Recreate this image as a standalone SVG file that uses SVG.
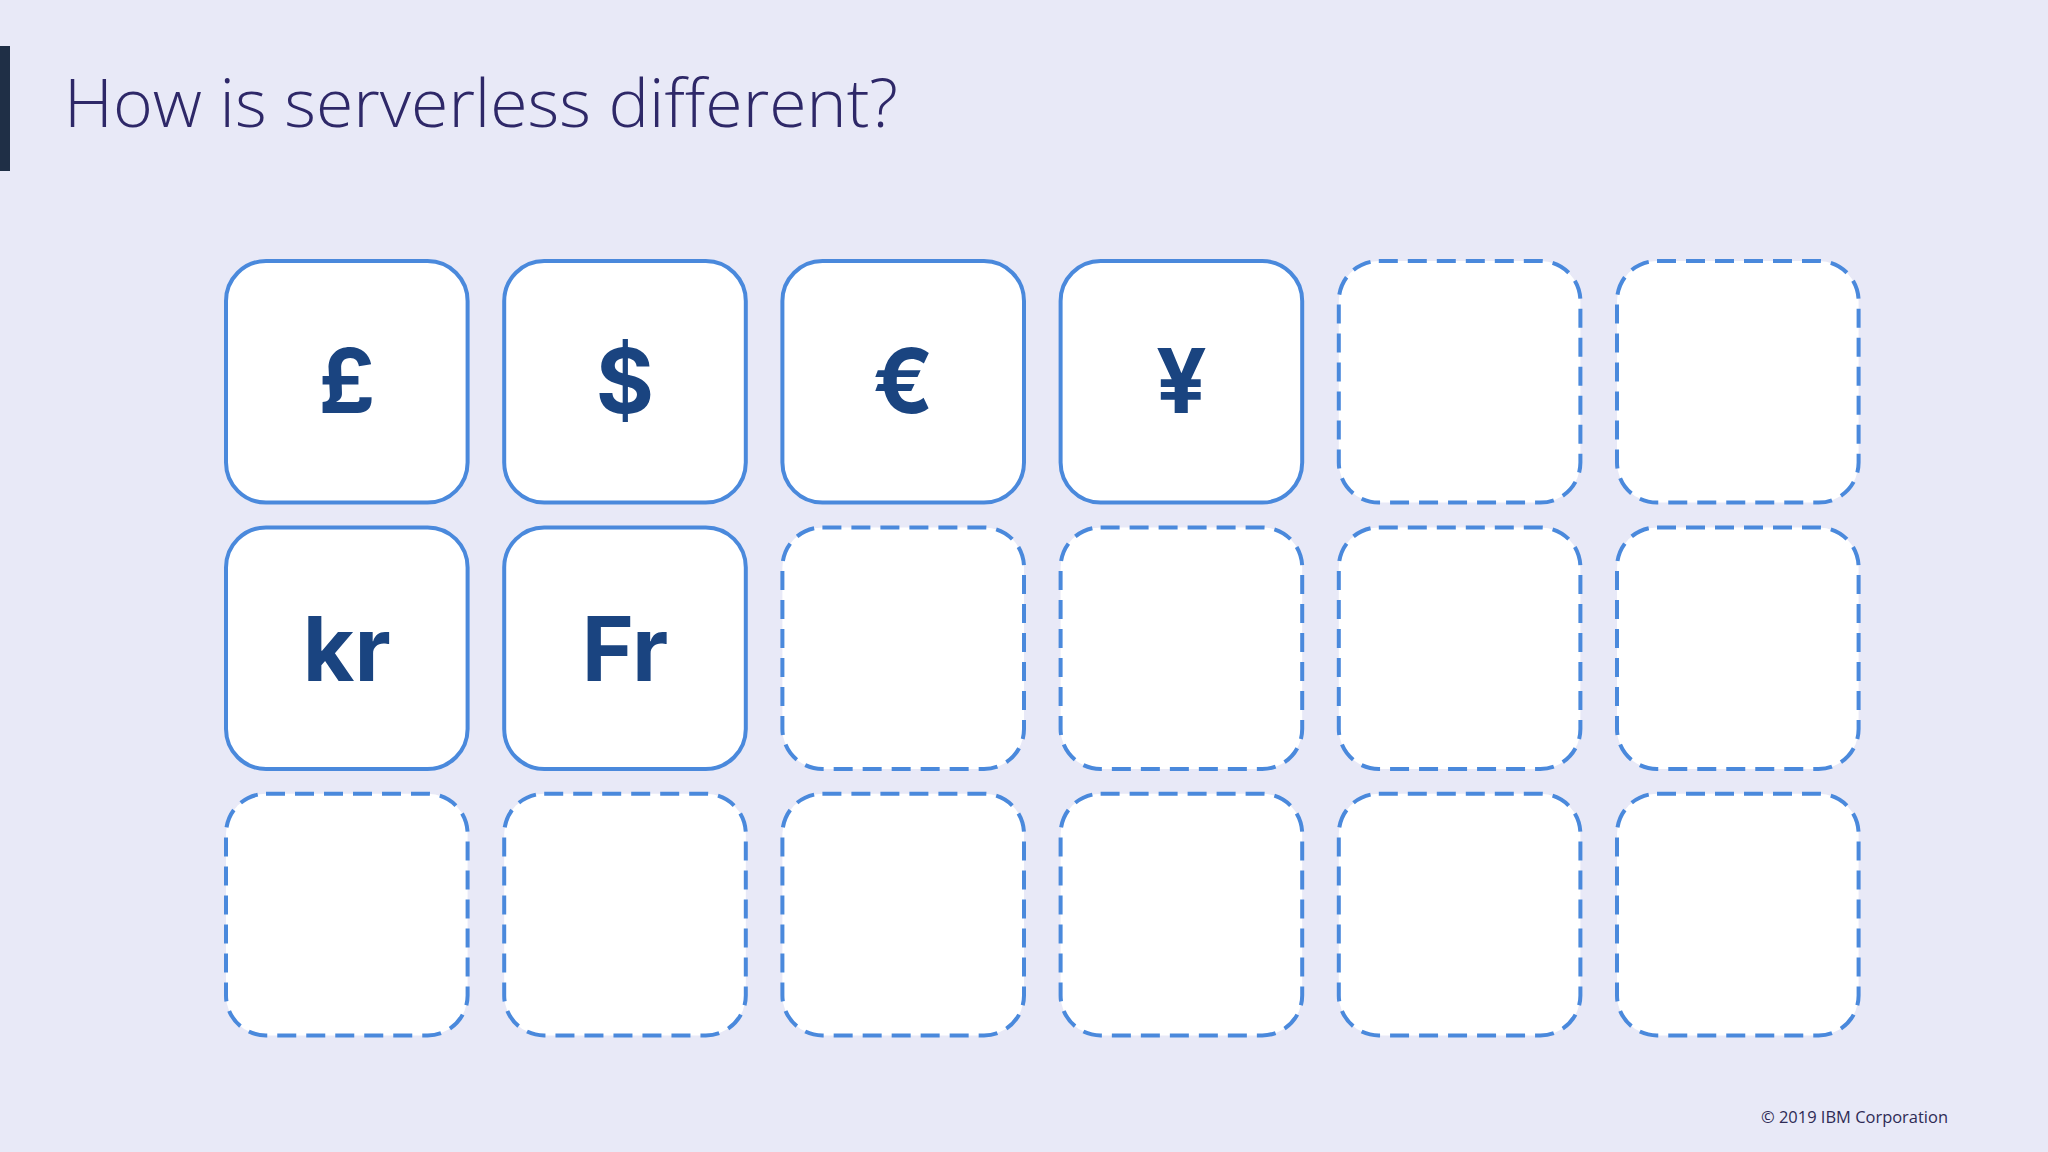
<svg xmlns="http://www.w3.org/2000/svg" width="2048" height="1152" viewBox="0 0 2048 1152">
  <style>
    .box { fill: #ffffff; stroke: #4a89dc; stroke-width: 4; }
    .dash { stroke-dasharray: 19 10; }
    .sym { font-family: Inter, "Open Sans", "Liberation Sans", sans-serif; font-weight: 700; font-size: 89px; fill: #1a4480; text-anchor: middle; }
    .title { font-family: "Open Sans", "Liberation Sans", sans-serif; font-weight: 300; font-size: 66px; fill: #2e2868; }
    .foot { font-family: "Open Sans", "Liberation Sans", sans-serif; font-size: 17px; fill: #2e2b55; }
  </style>
  <rect x="0" y="0" width="2048" height="1152" fill="#e8e9f7"/>
  <rect x="0" y="46" width="10" height="125" fill="#1f2f46"/>
  <text class="title" x="64" y="127" textLength="834" lengthAdjust="spacingAndGlyphs">How is serverless different?</text>

  <g id="n-pound"><rect class="box" x="226" y="261" width="241.6" height="241.6" rx="40"/><text class="sym" x="346.8" y="413">£</text></g>
  <g id="n-dollar"><rect class="box" x="504.2" y="261" width="241.6" height="241.6" rx="40"/><text class="sym" x="625" y="413">$</text></g>
  <g id="n-euro"><rect class="box" x="782.4" y="261" width="241.6" height="241.6" rx="40"/><text class="sym" x="903.2" y="413">€</text></g>
  <g id="n-yen"><rect class="box" x="1060.6" y="261" width="241.6" height="241.6" rx="40"/><text class="sym" x="1181.4" y="413">¥</text></g>
  <g id="n-e1"><rect class="box dash" x="1338.8" y="261" width="241.6" height="241.6" rx="40"/></g>
  <g id="n-e2"><rect class="box dash" x="1617" y="261" width="241.6" height="241.6" rx="40"/></g>

  <g id="n-kr"><rect class="box" x="226" y="527.4" width="241.6" height="241.6" rx="40"/><text class="sym" x="346.8" y="681">kr</text></g>
  <g id="n-fr"><rect class="box" x="504.2" y="527.4" width="241.6" height="241.6" rx="40"/><text class="sym" x="625" y="681">Fr</text></g>
  <g id="n-e3"><rect class="box dash" x="782.4" y="527.4" width="241.6" height="241.6" rx="40"/></g>
  <g id="n-e4"><rect class="box dash" x="1060.6" y="527.4" width="241.6" height="241.6" rx="40"/></g>
  <g id="n-e5"><rect class="box dash" x="1338.8" y="527.4" width="241.6" height="241.6" rx="40"/></g>
  <g id="n-e6"><rect class="box dash" x="1617" y="527.4" width="241.6" height="241.6" rx="40"/></g>

  <g id="n-e7"><rect class="box dash" x="226" y="793.8" width="241.6" height="241.6" rx="40"/></g>
  <g id="n-e8"><rect class="box dash" x="504.2" y="793.8" width="241.6" height="241.6" rx="40"/></g>
  <g id="n-e9"><rect class="box dash" x="782.4" y="793.8" width="241.6" height="241.6" rx="40"/></g>
  <g id="n-e10"><rect class="box dash" x="1060.6" y="793.8" width="241.6" height="241.6" rx="40"/></g>
  <g id="n-e11"><rect class="box dash" x="1338.8" y="793.8" width="241.6" height="241.6" rx="40"/></g>
  <g id="n-e12"><rect class="box dash" x="1617" y="793.8" width="241.6" height="241.6" rx="40"/></g>

  <g id="connectors"></g>

  <text class="foot" x="1761" y="1123" textLength="187" lengthAdjust="spacingAndGlyphs">© 2019 IBM Corporation</text>
</svg>
